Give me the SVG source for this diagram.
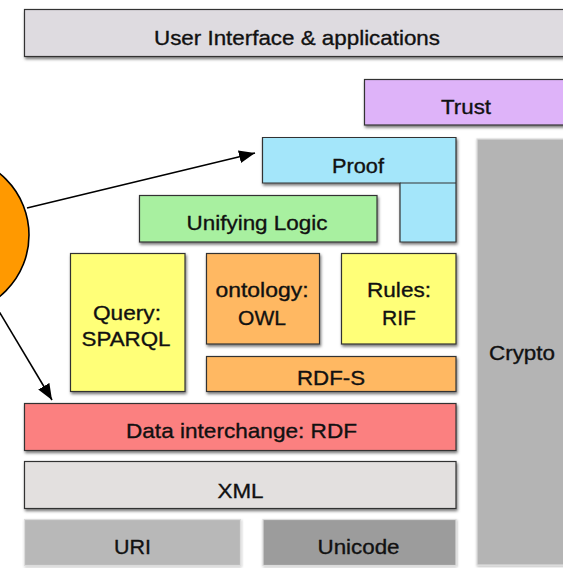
<svg xmlns="http://www.w3.org/2000/svg" width="563" height="568" viewBox="0 0 563 568">
  <defs>
    <filter id="sh" x="-10%" y="-20%" width="130%" height="150%">
      <feDropShadow dx="1" dy="2" stdDeviation="1.6" flood-color="#000" flood-opacity="0.55"/>
    </filter>
    <filter id="shl" x="-10%" y="-20%" width="130%" height="150%">
      <feDropShadow dx="0.5" dy="1" stdDeviation="1" flood-color="#000" flood-opacity="0.3"/>
    </filter>
    <marker id="ah" markerUnits="userSpaceOnUse" markerWidth="18" markerHeight="14" refX="16" refY="6.5" orient="auto">
      <path d="M0,0 L16,6.5 L0,13 Z" fill="#000"/>
    </marker>
  </defs>
  <style>
    .b { stroke: #333; stroke-width: 1.2; filter: url(#sh); }
    .l { stroke: #dcdcdc; stroke-width: 1.2; filter: url(#shl); }
    text { font-family: "Liberation Sans", Arial, Helvetica, sans-serif; font-size: 21px; fill: #111; stroke: #111; stroke-width: 0.35; text-anchor: middle; }
    .c { stroke: #000; stroke-width: 1.6; fill: none; marker-end: url(#ah); }
  </style>
  <rect width="563" height="568" fill="#fff"/>

  <g id="crypto">
    <rect class="l" x="477" y="139" width="100" height="426" fill="#b4b4b4"/>
    <text x="522" y="360" textLength="66" lengthAdjust="spacingAndGlyphs">Crypto</text>
  </g>
  <g id="ui">
    <rect class="b" x="24.5" y="9.5" width="545" height="47" fill="#dedbe0"/>
    <text x="297" y="45" textLength="286" lengthAdjust="spacingAndGlyphs">User Interface &amp; applications</text>
  </g>
  <g id="trust">
    <rect class="b" x="364.5" y="79.5" width="210" height="45.5" fill="#deb3f9"/>
    <text x="466" y="114" textLength="50" lengthAdjust="spacingAndGlyphs">Trust</text>
  </g>
  <g id="proof">
    <path class="b" d="M262.5,137.5 H456 V242 H400 V183 H262.5 Z" fill="#a4e6fa"/>
    <line x1="400" y1="183" x2="456" y2="183" stroke="#333" stroke-width="1.2"/>
    <text x="358" y="173" textLength="52" lengthAdjust="spacingAndGlyphs">Proof</text>
  </g>
  <g id="logic">
    <rect class="b" x="139.5" y="195.5" width="237.5" height="46.5" fill="#a8f0a0"/>
    <text x="257" y="230" textLength="141" lengthAdjust="spacingAndGlyphs">Unifying Logic</text>
  </g>
  <g id="query">
    <rect class="b" x="70.5" y="253.5" width="114.5" height="138" fill="#ffff78"/>
    <text x="127" y="320" textLength="68" lengthAdjust="spacingAndGlyphs">Query:</text>
    <text x="126" y="346" textLength="89" lengthAdjust="spacingAndGlyphs">SPARQL</text>
  </g>
  <g id="ontology">
    <rect class="b" x="206.5" y="253.5" width="113" height="90.5" fill="#ffb862"/>
    <text x="262" y="297" textLength="93" lengthAdjust="spacingAndGlyphs">ontology:</text>
    <text x="262" y="325">OWL</text>
  </g>
  <g id="rules">
    <rect class="b" x="341.5" y="253.5" width="114.5" height="90.5" fill="#ffff78"/>
    <text x="399" y="297" textLength="64" lengthAdjust="spacingAndGlyphs">Rules:</text>
    <text x="399" y="325">RIF</text>
  </g>
  <g id="rdfs">
    <rect class="b" x="206.5" y="356.5" width="249.5" height="35" fill="#ffb862"/>
    <text x="331" y="385" textLength="68" lengthAdjust="spacingAndGlyphs">RDF-S</text>
  </g>
  <g id="rdf">
    <rect class="b" x="24.5" y="403.5" width="431.5" height="47" fill="#fb8080"/>
    <text x="241.5" y="437.5" textLength="231" lengthAdjust="spacingAndGlyphs">Data interchange: RDF</text>
  </g>
  <g id="xml">
    <rect class="b" x="24.5" y="461.5" width="431.5" height="47" fill="#e3e0df"/>
    <text x="240.5" y="497.5" textLength="46" lengthAdjust="spacingAndGlyphs">XML</text>
  </g>
  <g id="uri">
    <rect class="l" x="24.5" y="519.5" width="216" height="46" fill="#b8b8b8"/>
    <text x="132.5" y="553.5" textLength="37" lengthAdjust="spacingAndGlyphs">URI</text>
  </g>
  <g id="unicode">
    <rect class="l" x="263" y="519.5" width="193" height="46" fill="#9c9c9c"/>
    <text x="358.5" y="553.5" textLength="82" lengthAdjust="spacingAndGlyphs">Unicode</text>
  </g>
  <g id="circle">
    <circle cx="-50" cy="235" r="79" fill="#ff9900" stroke="#000" stroke-width="1.6"/>
  </g>
  <g id="connectors">
    <line class="c" x1="27" y1="208" x2="255" y2="153"/>
    <line class="c" x1="-3" y1="308" x2="52" y2="400"/>
  </g>
</svg>
